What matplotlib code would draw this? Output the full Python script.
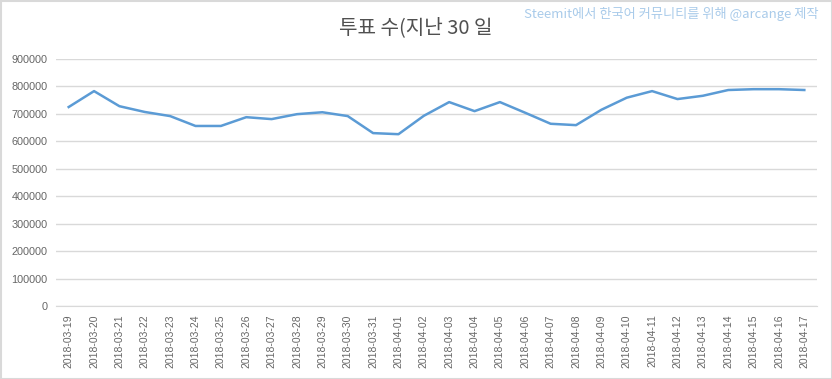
import matplotlib
matplotlib.use('Agg')
import matplotlib.pyplot as plt
import matplotlib.patches as patches

plt.rcParams['font.family'] = ['Noto Sans CJK KR', 'DejaVu Sans']

dates = [
    "2018-03-19", "2018-03-20", "2018-03-21", "2018-03-22", "2018-03-23",
    "2018-03-24", "2018-03-25", "2018-03-26", "2018-03-27", "2018-03-28",
    "2018-03-29", "2018-03-30", "2018-03-31", "2018-04-01", "2018-04-02",
    "2018-04-03", "2018-04-04", "2018-04-05", "2018-04-06", "2018-04-07",
    "2018-04-08", "2018-04-09", "2018-04-10", "2018-04-11", "2018-04-12",
    "2018-04-13", "2018-04-14", "2018-04-15", "2018-04-16", "2018-04-17",
]
votes = [
    725000, 783000, 728000, 707000, 692000, 656000, 656000, 688000, 681000, 699000,
    706000, 692000, 630000, 626000, 693000, 743000, 710000, 743000, 704000, 664000,
    659000, 715000, 759000, 783000, 754000, 766000, 787000, 790000, 790000, 787000,
]
y_ticks = list(range(0, 900001, 100000))

title = "투표 수(지난 30 일"
credit = "Steemit에서 한국어 커뮤니티를 위해 @arcange 제작"

fig = plt.figure(figsize=(8.32, 3.79), dpi=100)
ax = fig.add_axes([56 / 832, 1 - 306 / 379, (817 - 56) / 832, (306 - 59) / 379])

x = list(range(len(dates)))
ax.plot(x, votes, color='#5B9BD5', linewidth=1.8, solid_joinstyle='round')

ax.set_xlim(-0.5, len(dates) - 0.5)
ax.set_ylim(0, 900000)
ax.set_yticks(y_ticks)
ax.set_yticklabels([str(v) for v in y_ticks], fontsize=7.8, color='#666666',
                   family=['Liberation Sans', 'DejaVu Sans'])
ax.set_xticks(x)
ax.set_xticklabels(dates, rotation=90, fontsize=7.5, color='#666666',
                   family=['Liberation Sans', 'DejaVu Sans'])

ax.grid(axis='y', color='#d9d9d9', linewidth=1)
ax.set_axisbelow(True)
for s in ['top', 'right', 'left']:
    ax.spines[s].set_visible(False)
ax.spines['bottom'].set_color('#d9d9d9')
ax.tick_params(axis='both', length=0, pad=6)

fig.text(416 / 832, 1 - 28 / 379, title, ha='center', va='center',
         fontsize=14.5, fontweight='light', color='#505050')
fig.text(819 / 832, 1 - 14 / 379, credit, ha='right', va='center',
         fontsize=9.5, color='#A9CBEA')

# 바깥 테두리
border = patches.Rectangle((0.5 / 832, 0.5 / 379), 831 / 832, 378 / 379,
                           transform=fig.transFigure, fill=False,
                           edgecolor='#d9d9d9', linewidth=1.5)
fig.patches.append(border)

fig.savefig('out.png', dpi=100)
